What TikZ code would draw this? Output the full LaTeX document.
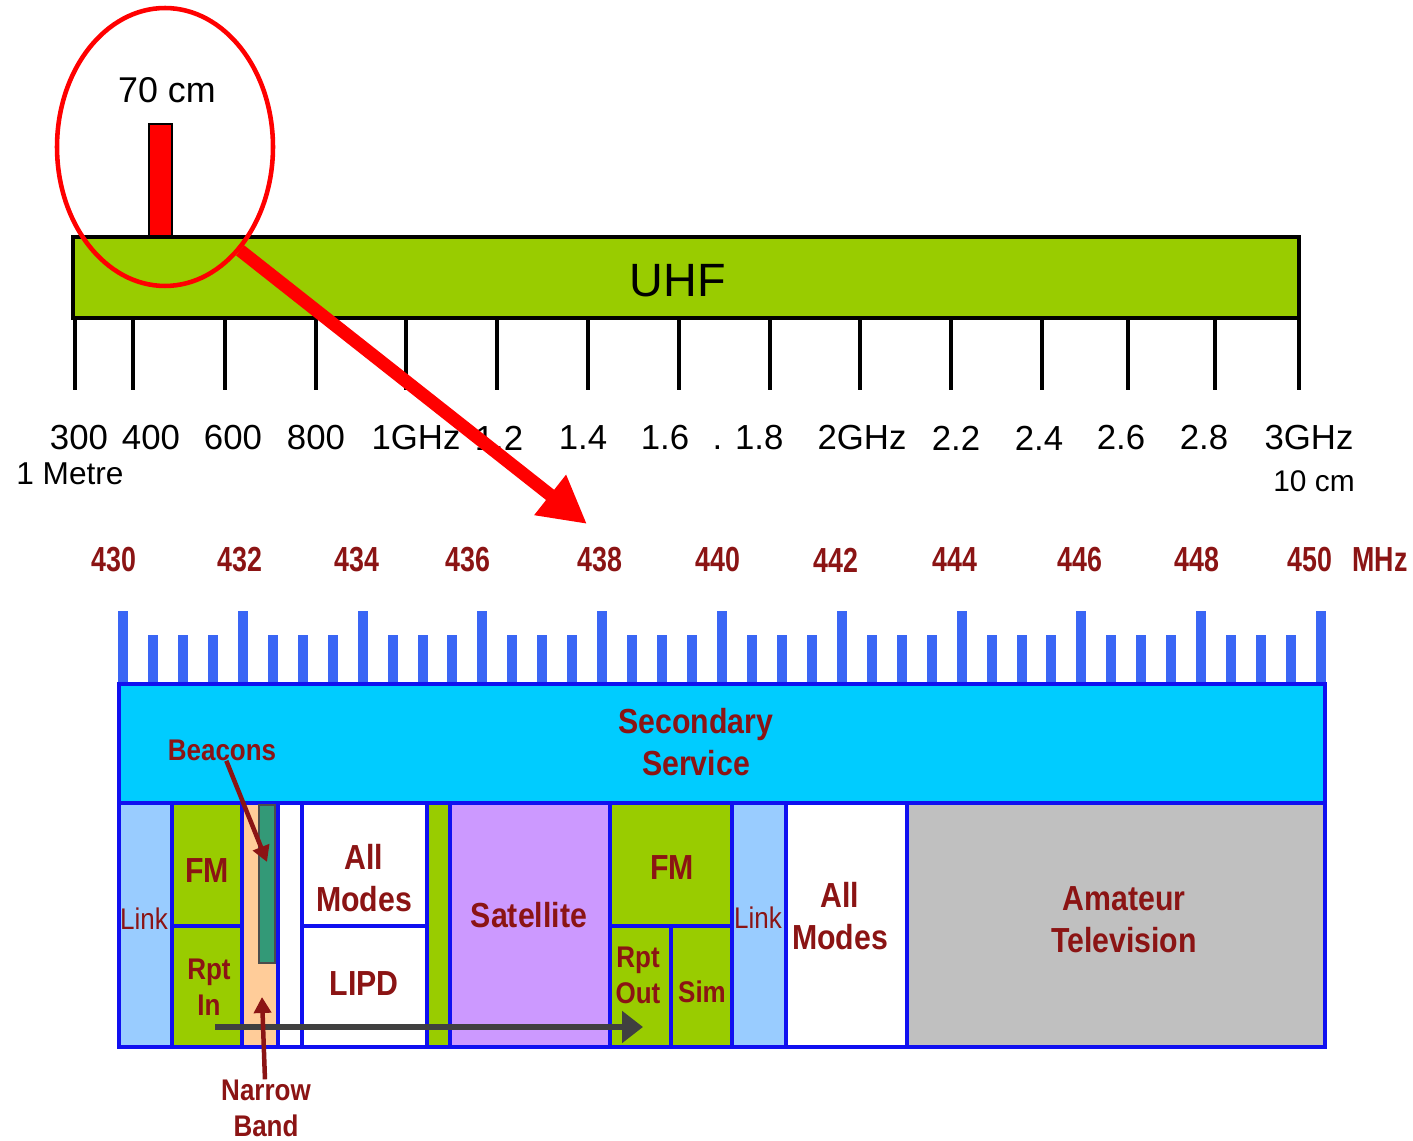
\documentclass[tikz,border=0pt]{standalone}
\usepackage{fontspec}
\setmainfont{Liberation Sans}
\newfontfamily\bandfont[FakeStretch=0.87]{Liberation Sans}
\newfontfamily\mhzfont[FakeStretch=0.77]{Liberation Sans}
\usetikzlibrary{arrows.meta, shapes.geometric}
\definecolor{bpRed}{HTML}{FF0000}
\definecolor{bpUhf}{HTML}{99CC00}
\definecolor{bpGreen}{HTML}{99CC00}
\definecolor{bpCyan}{HTML}{00CCFF}
\definecolor{bpLink}{HTML}{99CCFF}
\definecolor{bpPeach}{HTML}{FFCC99}
\definecolor{bpBeacon}{HTML}{339977}
\definecolor{bpSat}{HTML}{CC99FF}
\definecolor{bpGrey}{HTML}{C0C0C0}
\definecolor{bpEdge}{HTML}{1010F0}
\definecolor{bpTick}{HTML}{3A66F5}
\definecolor{bpInk}{HTML}{8B1414}
\definecolor{bpDark}{HTML}{404040}

\begin{document}
\begin{tikzpicture}[x=0.02cm, y=-0.02cm,
        freq/.style={inner sep=0, font=\fontsize{19.8}{23}\selectfont},
        tick/.style={line width=2.3pt, black},
        cell/.style={draw=bpEdge, line width=2.1pt},
        mhz/.style={inner sep=0, text=bpInk, font={\fontsize{19.8}{23}\mhzfont\bfseries}},
        big/.style={inner sep=0, align=center, text=bpInk, font={\fontsize{19.8}{23.8}\bandfont\bfseries}},
        small/.style={inner sep=0, align=center, text=bpInk, font={\fontsize{17}{20.4}\bandfont\bfseries}},
        zoomarrow/.style={-{Triangle[length=0.94cm, width=0.96cm]}, bpRed, line width=0.26cm},
        spanarrow/.style={-{Triangle[length=0.42cm, width=0.62cm]}, bpDark, line width=0.13cm},
        markarrow/.style={-{Triangle[length=0.32cm, width=0.34cm]}, bpInk, line width=0.09cm}]
  \useasboundingbox (0,0) rectangle (1413,1141);

  % UHF scale
  \draw[fill=bpRed, line width=0.6pt] (149,124) rectangle (172,237);
  \draw[fill=bpUhf, line width=1.8pt] (73,237) rectangle (1299,318);
  \node[inner sep=0, font=\fontsize{26.6}{30}\selectfont] (uhf) at (678,281) {UHF};
  \node[inner sep=0, font=\fontsize{20.4}{24}\selectfont] (band70) at (167,90) {70 cm};
  \foreach \x in {75,133,225,316,406,497,588,679,770,860,951,1042,1128,1215,1299}
    \draw[tick] (\x,318) -- (\x,390);
  \foreach \x/\t in {79/300, 151/400, 233/600, 316/800, 416/1GHz, 499/1.2, 583/1.4,
                     665/1.6, 748/. 1.8, 862/2GHz, 956/2.2, 1039/2.4, 1121/2.6, 1204/2.8, 1309/3GHz}
    \node[freq] (f\x) at (\x,438) {\t};
  \node[inner sep=0, font=\fontsize{18}{21}\selectfont] (metre) at (70,474) {1 Metre};
  \node[inner sep=0, font=\fontsize{17}{20}\selectfont] (tencm) at (1314,481) {10 cm};

  % zoom ring and arrow
  \node[ellipse, draw=bpRed, line width=2.6pt, minimum width=4.32cm, minimum height=5.56cm, inner sep=0] (ring) at (165,147) {};
  \coordinate (zoomtip) at (587,524);
  \draw[zoomarrow] (ring.-54.5) -- (zoomtip);

  % 70 cm band plan
  \foreach \x/\f in {114/430, 240/432, 357/434, 468/436, 600/438, 718/440, 836/442, 955/444, 1080/446, 1197/448, 1310/450}
    \node[mhz] (m\f) at (\x,560) {\f};
  \node[mhz] (mhzunit) at (1380,560) {MHz};
  \foreach \i in {0,...,40} {
    \pgfmathsetmacro\tx{123+\i*29.95}
    \pgfmathsetmacro\ty{mod(\i,4)==0 ? 611 : 635}
    \fill[bpTick] (\tx-5,\ty) rectangle (\tx+5,684);
  }
  \draw[cell, fill=bpCyan] (119,684) rectangle (1325,803);
  \foreach \xa/\ya/\xb/\yb/\c in {119/803/172/1047/bpLink, 172/803/242/926/bpGreen, 172/926/242/1047/bpGreen,
                                  242/803/278/1047/bpPeach, 278/803/302/1047/white, 302/803/427/926/white,
                                  302/926/427/1047/white, 427/803/450/1047/bpGreen, 450/803/610/1047/bpSat,
                                  610/803/732/926/bpGreen, 610/926/671/1047/bpGreen, 671/926/732/1047/bpGreen,
                                  732/803/786/1047/bpLink, 786/803/907/1047/white, 907/803/1325/1047/bpGrey}
    \draw[cell, fill=\c] (\xa,\ya) rectangle (\xb,\yb);
  \draw[fill=bpBeacon, draw=black!70, line width=0.6pt] (259,805) rectangle (275,963);

  \node[big] (secondary) at (696,742) {Secondary\\Service};
  \node[small, font={\fontsize{17}{20.4}\bandfont}] (linkA) at (144,919) {Link};
  \node[big] (fmA) at (207,871) {FM};
  \node[small] (rptin) at (209,987) {Rpt\\In};
  \node[big] (modesA) at (364,878) {All\\Modes};
  \node[big] (lipd) at (364,984) {LIPD};
  \node[big] (sat) at (529,915) {Satellite};
  \node[big] (fmB) at (672,868) {FM};
  \node[small] (rptout) at (638,975) {Rpt\\Out};
  \node[small] (sim) at (702,992) {Sim};
  \node[small, font={\fontsize{17}{20.4}\bandfont}] (linkB) at (758,918) {Link};
  \node[big] (modesB) at (840,916) {All\\Modes};
  \node[big] (atv) at (1124,920) {Amateur\\Television};

  \coordinate (spanA) at (215,1027);
  \coordinate (spanB) at (643,1027);
  \draw[spanarrow] (spanA) -- (spanB);

  \node[small] (beacons) at (222,750) {Beacons};
  \coordinate (beacontip) at (267,862);
  \draw[markarrow] (beacons) -- (beacontip);
  \node[small] (narrow) at (266,1108) {Narrow\\Band};
  \coordinate (narrowtip) at (262,997);
  \draw[markarrow] (narrow) -- (narrowtip);
\end{tikzpicture}
\end{document}
